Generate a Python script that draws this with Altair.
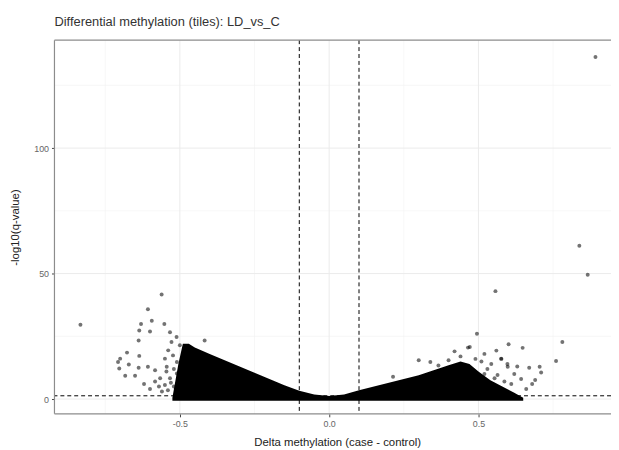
import altair as alt
import pandas as pd

title_text = "Differential methylation (tiles): LD_vs_C"
x_title = "Delta methylation (case - control)"
y_title = "-log10(q-value)"

x_ticks = [-0.5, 0.0, 0.5]
y_ticks = [0, 50, 100]
x_minor = [-0.75, -0.25, 0.25, 0.75]
y_minor = [25, 75, 125]

delta_cut = [-0.1, 0.1]
q_cut = [1.3]

# upper envelope of the dense cloud of tiles
core_x = [-0.525, -0.505, -0.49, -0.47, -0.45, -0.40, -0.35, -0.30, -0.25, -0.20,
          -0.15, -0.10, -0.05, 0.0, 0.05, 0.10, 0.15, 0.20, 0.25, 0.30,
          0.35, 0.40, 0.44, 0.47, 0.50, 0.54, 0.58, 0.62, 0.65]
core_top = [0.5, 14, 22, 22, 20.5, 18, 15.5, 13, 10.5, 8,
            5.5, 3.3, 1.8, 1.2, 1.8, 3.5, 5, 6.5, 8, 9.5,
            11.5, 13.5, 15, 14, 11, 7.5, 5, 2.5, 0.5]
core_base = -0.7

# individually visible tiles outside the dense cloud
pts_x = [0.892, 0.838, 0.866, 0.557, 0.495, 0.601, 0.648, 0.781, 0.760, 0.670,
         0.705, 0.710, 0.465, 0.520, 0.560, 0.577, 0.543, 0.597, 0.620, 0.587,
         0.520, 0.643, 0.630, 0.300, 0.339, 0.471, 0.214, 0.366, 0.400, 0.420,
         0.440, 0.576, 0.598, 0.564, 0.554, 0.690, 0.490, 0.510, 0.530, 0.610,
         0.660, 0.680,
         -0.833, -0.561, -0.607, -0.594, -0.630, -0.552, -0.636, -0.600, -0.638, -0.533,
         -0.511, -0.417, -0.677, -0.636, -0.700, -0.707, -0.671, -0.703, -0.638, -0.607,
         -0.683, -0.650, -0.583, -0.550, -0.544, -0.566, -0.533, -0.583, -0.550, -0.520,
         -0.539, -0.523, -0.510, -0.528, -0.500, -0.510, -0.505, -0.570, -0.560, -0.540,
         -0.530, -0.600, -0.620, -0.545, -0.520]
pts_y = [136.3, 61.1, 49.5, 43.0, 26.0, 21.8, 20.4, 22.7, 15.2, 12.5,
         12.9, 10.6, 20.5, 18.0, 19.3, 16.0, 14.0, 14.0, 10.0, 7.0,
         10.0, 8.0, 13.0, 15.5, 14.8, 20.7, 8.9, 13.4, 15.5, 19.0,
         17.0, 16.1, 12.9, 9.6, 8.3, 7.6, 16.0, 15.0, 12.0, 6.0,
         4.0, 6.0,
         29.6, 41.7, 35.8, 31.2, 29.9, 29.9, 27.3, 26.9, 23.3, 26.6,
         24.7, 23.3, 18.5, 17.2, 16.1, 14.8, 13.8, 12.2, 12.5, 12.9,
         9.3, 9.3, 11.5, 16.1, 12.9, 8.3, 8.3, 7.0, 5.6, 5.0,
         19.4, 17.4, 14.8, 22.7, 21.4, 10.2, 7.0, 5.0, 3.0, 3.5,
         6.5, 4.0, 6.0, 11.0, 12.0]

X_DOMAIN = [-0.92, 0.944]
Y_DOMAIN = [-5.9, 143]
FONT = "Liberation Sans"

xs = alt.Scale(domain=X_DOMAIN, nice=False, zero=False)
ys = alt.Scale(domain=Y_DOMAIN, nice=False, zero=False)

x_axis = alt.Axis(values=x_ticks, grid=False, domain=False,
                  labelExpr="datum.value < 0 ? '-' + format(-datum.value, '.1f') : format(datum.value, '.1f')",
                  titleX=286)
y_axis = alt.Axis(values=y_ticks, grid=False, domain=False, format="d")


def X(field):
    return alt.X(field, scale=xs, title=x_title, axis=x_axis)


def Y(field):
    return alt.Y(field, scale=ys, title=y_title, axis=y_axis)


grid_x_major = alt.Chart(pd.DataFrame({"v": x_ticks})).mark_rule(
    color="#EBEBEB", strokeWidth=1).encode(x=X("v:Q"))
grid_x_minor = alt.Chart(pd.DataFrame({"v": x_minor})).mark_rule(
    color="#F2F2F2", strokeWidth=0.6).encode(x=X("v:Q"))
grid_y_major = alt.Chart(pd.DataFrame({"v": y_ticks})).mark_rule(
    color="#EBEBEB", strokeWidth=1).encode(y=Y("v:Q"))
grid_y_minor = alt.Chart(pd.DataFrame({"v": y_minor})).mark_rule(
    color="#F2F2F2", strokeWidth=0.6).encode(y=Y("v:Q"))

core_df = pd.DataFrame({"x": core_x, "top": core_top, "base": [core_base] * len(core_x)})
core = alt.Chart(core_df).mark_area(color="black", clip=True).encode(
    x=X("x:Q"), y=Y("top:Q"), y2="base:Q",
)

pts_df = pd.DataFrame({"x": pts_x, "y": pts_y})
points = alt.Chart(pts_df).mark_circle(color="black", size=16, opacity=0.55, clip=True).encode(
    x=X("x:Q"), y=Y("y:Q"),
)

vlines = alt.Chart(pd.DataFrame({"v": delta_cut})).mark_rule(
    color="black", strokeWidth=1, strokeDash=[4, 3]).encode(x=X("v:Q"))
hline = alt.Chart(pd.DataFrame({"v": q_cut})).mark_rule(
    color="black", strokeWidth=1, strokeDash=[4, 3]).encode(y=Y("v:Q"))

# panel border: left, top and bottom (the right edge lies beyond the picture)
border_left = alt.Chart(pd.DataFrame({"v": [X_DOMAIN[0]]})).mark_rule(
    color="#8c8c8c", strokeWidth=1.2).encode(x=X("v:Q"))
border_tb = alt.Chart(pd.DataFrame({"v": Y_DOMAIN})).mark_rule(
    color="#8c8c8c", strokeWidth=1.2).encode(y=Y("v:Q"))

chart = alt.layer(
    grid_x_minor, grid_y_minor, grid_x_major, grid_y_major, core, points, vlines, hline,
    border_left, border_tb
).properties(
    width=563,
    height=378,
    autosize=alt.AutoSizeParams(type="none"),
    padding={"left": 47, "top": 30, "right": 0, "bottom": 34},
    title=alt.TitleParams(title_text, anchor="start", frame="group", fontSize=13,
                          font=FONT, fontWeight="normal", color="#333333",
                          baseline="alphabetic", offset=1),
).configure_view(
    stroke=None
).configure_axis(
    labelFont=FONT, titleFont=FONT, labelFontSize=9, labelColor="#666666",
    titleFontSize=11.5, titleFontWeight="normal", titleColor="#222222",
    tickColor="#444444", tickSize=3, labelPadding=3,
).configure_axisX(
    titlePadding=8
).configure_axisY(
    titlePadding=13
)

chart.save("out.html", embed_options={"renderer": "svg", "actions": False})
